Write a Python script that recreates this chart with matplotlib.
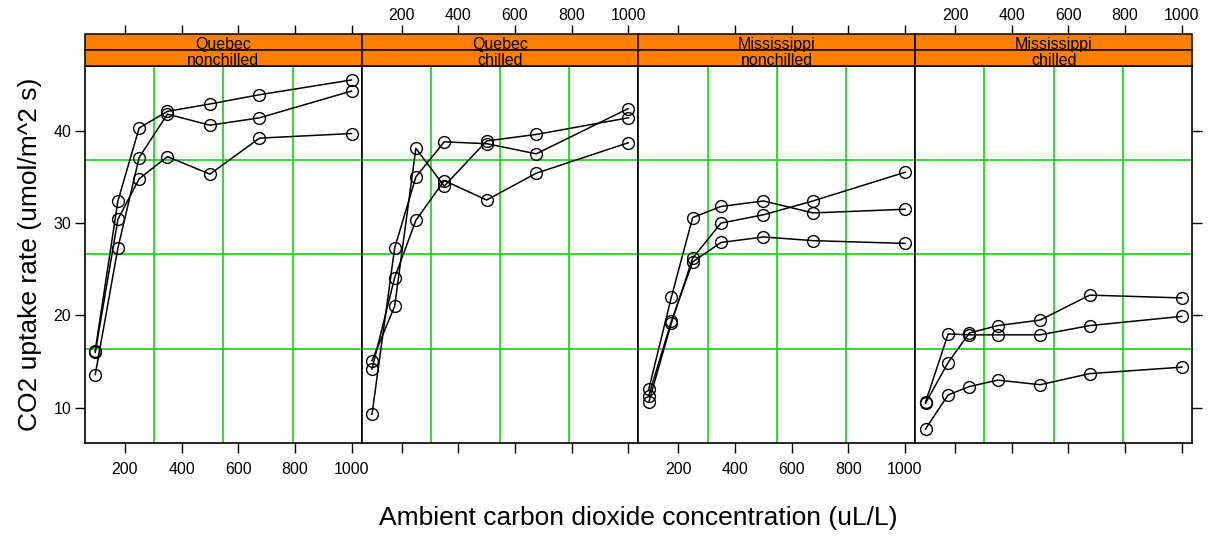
import numpy as np
import matplotlib.pyplot as plt
from matplotlib.patches import Rectangle

plt.rcParams['font.family'] = ['Liberation Sans', 'DejaVu Sans']

conc = [95, 175, 250, 350, 500, 675, 1000]

types = ['Quebec', 'Quebec', 'Mississippi', 'Mississippi']
treatments = ['nonchilled', 'chilled', 'nonchilled', 'chilled']

qn1 = [16.0, 30.4, 34.8, 37.2, 35.3, 39.2, 39.7]
qn2 = [13.6, 27.3, 37.1, 41.8, 40.6, 41.4, 44.3]
qn3 = [16.2, 32.4, 40.3, 42.1, 42.9, 43.9, 45.5]
qc1 = [14.2, 24.1, 30.3, 34.6, 32.5, 35.4, 38.7]
qc2 = [9.3, 27.3, 35.0, 38.8, 38.6, 37.5, 42.4]
qc3 = [15.1, 21.0, 38.1, 34.0, 38.9, 39.6, 41.4]
mn1 = [10.6, 19.2, 26.2, 30.0, 30.9, 32.4, 35.5]
mn2 = [12.0, 22.0, 30.6, 31.8, 32.4, 31.1, 31.5]
mn3 = [11.3, 19.4, 25.8, 27.9, 28.5, 28.1, 27.8]
mc1 = [10.5, 14.9, 18.1, 18.9, 19.5, 22.2, 21.9]
mc2 = [7.7, 11.4, 12.3, 13.0, 12.5, 13.7, 14.4]
mc3 = [10.6, 18.0, 17.9, 17.9, 17.9, 18.9, 19.9]

panels = [[qn1, qn2, qn3], [qc1, qc2, qc3], [mn1, mn2, mn3], [mc1, mc2, mc3]]

xticks = [200, 400, 600, 800, 1000]
yticks = [10, 20, 30, 40]

W, H = 1215, 537
fig = plt.figure(figsize=(W / 100, H / 100), dpi=100)

# limits like lattice: data range extended by 4%
allx = np.array(conc)
ally = np.concatenate([np.ravel(p) for p in panels])
xr = allx.max() - allx.min()
yr = ally.max() - ally.min()
xlim = (allx.min() - 0.04 * xr, allx.max() + 0.04 * xr)
ylim = (ally.min() - 0.04 * yr, ally.max() + 0.04 * yr)

left, right = 85, 1192
ptop, pbot = 66, 443
stop = 34.5
pw = (right - left) / 4
green = '#00cc00'
orange = '#ff7f00'
tfs = 11.5

for i in range(4):
    x0 = left + i * pw
    ax = fig.add_axes([x0 / W, 1 - pbot / H, pw / W, (pbot - ptop) / H])
    ax.set_xlim(xlim)
    ax.set_ylim(ylim)

    # grid like panel.grid(h=3, v=3)
    for k in range(1, 4):
        ax.axvline(xlim[0] + k * (xlim[1] - xlim[0]) / 4, color=green, lw=1.1, zorder=1)
        ax.axhline(ylim[0] + k * (ylim[1] - ylim[0]) / 4, color=green, lw=1.1, zorder=1)

    for series in panels[i]:
        ax.plot(conc, series, color='black', lw=1.1, marker='o', ms=8.5,
                mfc='none', mec='black', mew=1.0, zorder=3)

    for s in ax.spines.values():
        s.set_linewidth(1.2)

    ax.set_xticks(xticks)
    ax.set_xticklabels([str(t) for t in xticks])
    ax.tick_params(axis='x', direction='out', length=7, width=1, labelsize=tfs,
                   top=False, bottom=True, pad=7,
                   labelbottom=(i % 2 == 0), labeltop=False)
    ax.set_yticks(yticks)
    ax.tick_params(axis='y', direction='out', length=7, width=1, labelsize=tfs,
                   left=(i == 0), right=(i == 3), labelleft=(i == 0), labelright=False,
                   pad=3)

    # top ticks with labels are drawn above the strips
    tax = fig.add_axes([x0 / W, 1 - pbot / H, pw / W, (pbot - stop) / H], frameon=False)
    tax.set_xlim(xlim)
    tax.set_yticks([])
    tax.xaxis.set_ticks_position('top')
    tax.set_xticks(xticks)
    tax.set_xticklabels([str(t) for t in xticks])
    tax.tick_params(axis='x', direction='out', length=7, width=1, labelsize=tfs,
                    top=True, bottom=False, labeltop=(i % 2 == 1), labelbottom=False, pad=1)
    tax.patch.set_visible(False)

    # strips
    sh = (ptop - stop) / 2
    for j, label in enumerate([types[i], treatments[i]]):
        yb = stop + j * sh
        r = Rectangle((x0 / W, 1 - (yb + sh) / H), pw / W, sh / H,
                      transform=fig.transFigure, facecolor=orange,
                      edgecolor='black', lw=1.1, zorder=5)
        fig.patches.append(r)
        fig.text((x0 + pw / 2) / W, 1 - (yb + sh / 2 + 2) / H, label,
                 ha='center', va='center', fontsize=11.5, color='black', zorder=6)

fig.text((left + right) / 2 / W, 1 - 518 / H,
         'Ambient carbon dioxide concentration (uL/L)', ha='center', va='center',
         fontsize=19)
fig.text(30 / W, 1 - (ptop + pbot) / 2 / H, 'CO2 uptake rate (umol/m^2 s)',
         ha='center', va='center', rotation=90, fontsize=19)

fig.savefig('out.png', dpi=100)
